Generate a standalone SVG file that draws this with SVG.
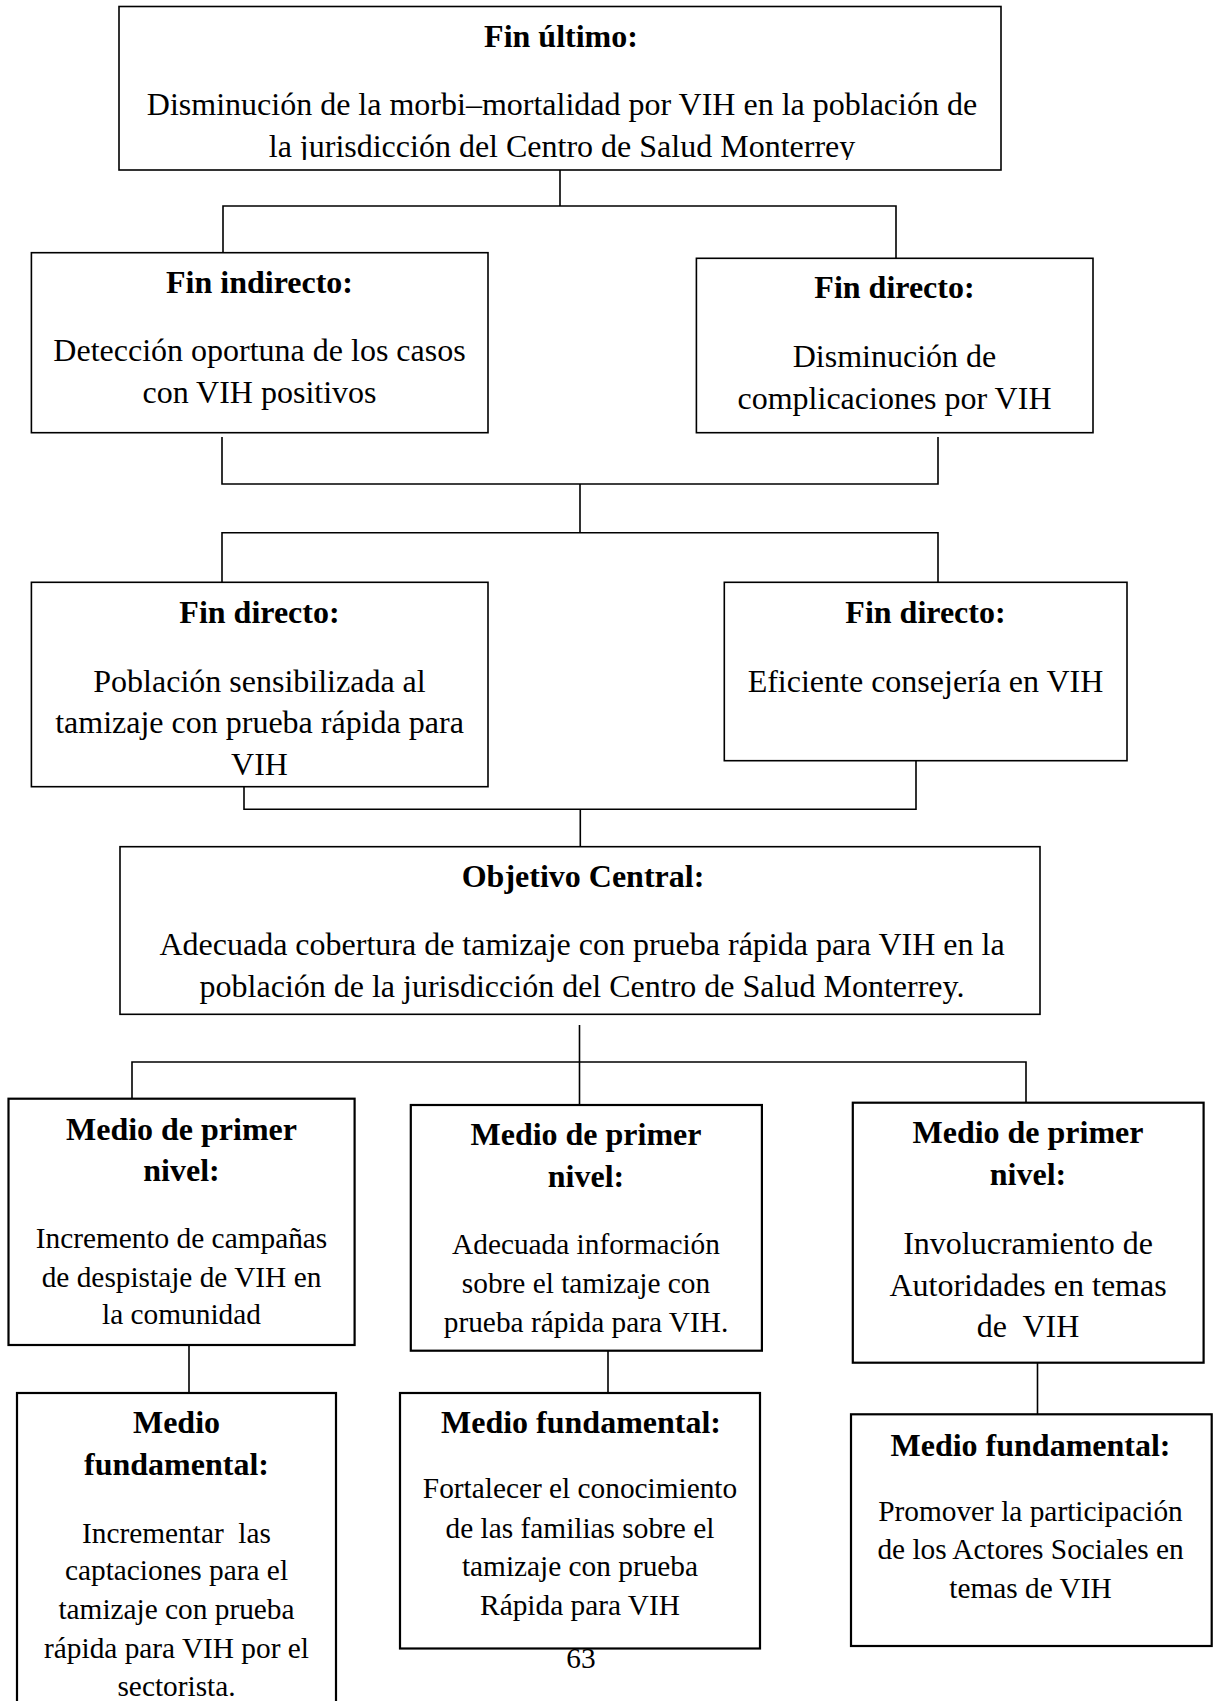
<svg xmlns="http://www.w3.org/2000/svg" width="1214" height="1701" viewBox="0 0 1214 1701">
<style>
.box{fill:#fff;stroke:#000;stroke-width:1.6}
.bx2{stroke-width:2.2}
.conn{fill:none;stroke:#000;stroke-width:1.6}
text{font-family:"Liberation Serif","Times New Roman",serif;fill:#000;text-anchor:middle}
.h{font-weight:bold;font-size:32px}
.b{font-size:32px}
.s{font-size:29.33px}
</style>
<defs>
<clipPath id="topclip"><rect x="0" y="0" width="1214" height="160"/></clipPath>
</defs>
<rect width="1214" height="1701" fill="#fff"/>
<text class="s" x="581" y="1668">63</text>
<g id="connectors">
<path class="conn" d="M560 170V206M223 252.7V206H896V258"/>
<path class="conn" d="M222 437V484H938V437M580 484V532.7M222 582.3V532.7H938V582.3"/>
<path class="conn" d="M244 786.7V809.3H916V760.7M580.3 809.3V846.7"/>
<path class="conn" d="M579.5 1025V1105M132 1098.7V1062H1026V1102.7"/>
<path class="conn" d="M189 1345V1393M608 1350.7V1393M1037.5 1362.7V1414.3"/>
</g>
<g id="fin-ultimo">
<rect class="box" x="119" y="6.5" width="882" height="163.5"/>
<text class="h" x="561" y="47">Fin último:</text>
<g clip-path="url(#topclip)">
<text class="b" x="562" y="115">Disminución de la morbi–mortalidad por VIH en la población de</text>
<text class="b" x="562" y="157">la jurisdicción del Centro de Salud Monterrey</text>
</g>
</g>
<g id="fin-indirecto">
<rect class="box" x="31.4" y="252.7" width="456.6" height="180"/>
<text class="h" x="259.5" y="293">Fin indirecto:</text>
<text class="b" x="259.5" y="361">Detección oportuna de los casos</text>
<text class="b" x="259.5" y="403">con VIH positivos</text>
</g>
<g id="fin-directo-1">
<rect class="box" x="696.4" y="258.3" width="396.6" height="174.4"/>
<text class="h" x="894.5" y="298">Fin directo:</text>
<text class="b" x="894.5" y="367">Disminución de</text>
<text class="b" x="894.5" y="409">complicaciones por VIH</text>
</g>
<g id="fin-directo-2">
<rect class="box" x="31.4" y="582.3" width="456.6" height="204.4"/>
<text class="h" x="259.5" y="623.3">Fin directo:</text>
<text class="b" x="259.5" y="691.7">Población sensibilizada al</text>
<text class="b" x="259.5" y="733.3">tamizaje con prueba rápida para</text>
<text class="b" x="259.5" y="775">VIH</text>
</g>
<g id="fin-directo-3">
<rect class="box" x="724.3" y="582.3" width="402.7" height="178.4"/>
<text class="h" x="925.5" y="623.3">Fin directo:</text>
<text class="b" x="925.5" y="692.3">Eficiente consejería en VIH</text>
</g>
<g id="objetivo-central">
<rect class="box" x="120" y="846.7" width="920" height="167.6"/>
<text class="h" x="583" y="886.7">Objetivo Central:</text>
<text class="b" x="582" y="955">Adecuada cobertura de tamizaje con prueba rápida para VIH en la</text>
<text class="b" x="582" y="996.7">población de la jurisdicción del Centro de Salud Monterrey.</text>
</g>
<g id="medio-primer-1">
<rect class="box bx2" x="8.5" y="1098.7" width="346.1" height="246.3"/>
<text class="h" x="181.5" y="1140">Medio de primer</text>
<text class="h" x="181.5" y="1181">nivel:</text>
<text class="s" x="181.5" y="1248.3">Incremento de campañas</text>
<text class="s" x="181.5" y="1286.7">de despistaje de VIH en</text>
<text class="s" x="181.5" y="1324">la comunidad</text>
</g>
<g id="medio-primer-2">
<rect class="box bx2" x="410.8" y="1105" width="351.1" height="245.7"/>
<text class="h" x="586" y="1145">Medio de primer</text>
<text class="h" x="586" y="1186.7">nivel:</text>
<text class="s" x="586" y="1254">Adecuada información</text>
<text class="s" x="586" y="1293">sobre el tamizaje con</text>
<text class="s" x="586" y="1332">prueba rápida para VIH.</text>
</g>
<g id="medio-primer-3">
<rect class="box bx2" x="852.8" y="1102.7" width="350.8" height="260"/>
<text class="h" x="1028" y="1142.7">Medio de primer</text>
<text class="h" x="1028" y="1185">nivel:</text>
<text class="b" x="1028" y="1254">Involucramiento de</text>
<text class="b" x="1028" y="1296">Autoridades en temas</text>
<text class="b" x="1028" y="1337.3" xml:space="preserve">de  VIH</text>
</g>
<g id="medio-fundamental-1">
<rect class="box bx2" x="17" y="1393" width="319" height="330"/>
<text class="h" x="176.5" y="1432.7">Medio</text>
<text class="h" x="176.5" y="1475.3">fundamental:</text>
<text class="s" x="176.5" y="1542.7" xml:space="preserve">Incrementar  las</text>
<text class="s" x="176.5" y="1580">captaciones para el</text>
<text class="s" x="176.5" y="1618.7">tamizaje con prueba</text>
<text class="s" x="176.5" y="1657.7">rápida para VIH por el</text>
<text class="s" x="176.5" y="1696">sectorista.</text>
</g>
<g id="medio-fundamental-2">
<rect class="box bx2" x="400" y="1393" width="360" height="255.5"/>
<text class="h" x="581" y="1432.7">Medio fundamental:</text>
<text class="s" x="580" y="1497.7">Fortalecer el conocimiento</text>
<text class="s" x="580" y="1537.7">de las familias sobre el</text>
<text class="s" x="580" y="1576">tamizaje con prueba</text>
<text class="s" x="580" y="1615.3">Rápida para VIH</text>
</g>
<g id="medio-fundamental-3">
<rect class="box bx2" x="851" y="1414.3" width="360.7" height="231.7"/>
<text class="h" x="1030.5" y="1456">Medio fundamental:</text>
<text class="s" x="1030.5" y="1521">Promover la participación</text>
<text class="s" x="1030.5" y="1559.3">de los Actores Sociales en</text>
<text class="s" x="1030.5" y="1597.7">temas de VIH</text>
</g>
</svg>
